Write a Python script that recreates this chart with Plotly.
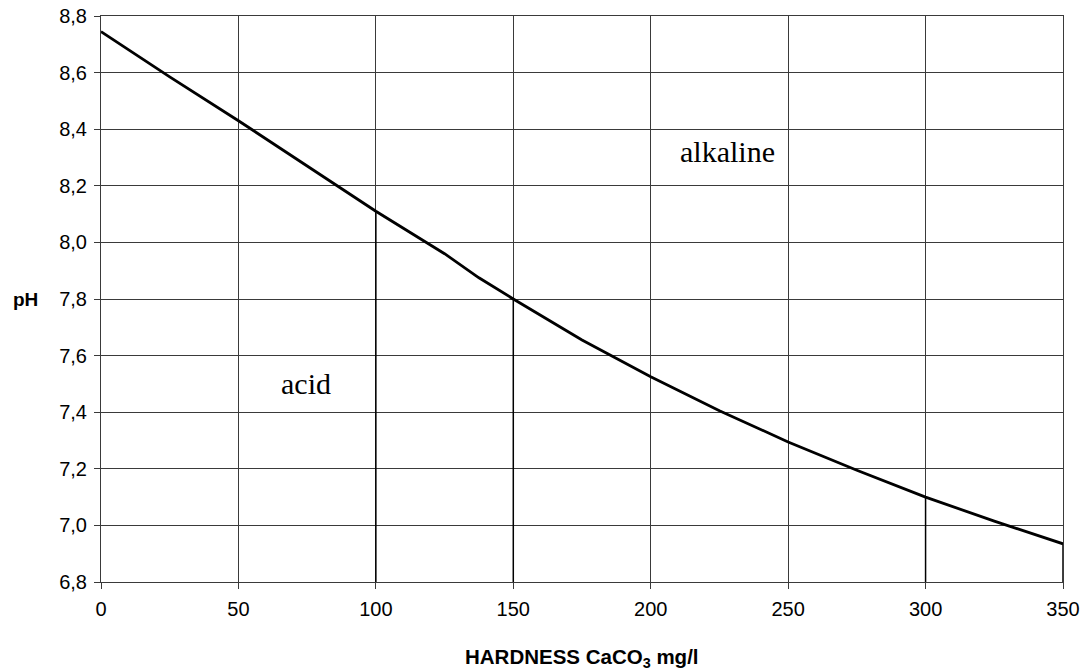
import plotly.graph_objects as go

hardness = [0, 25, 50, 75, 100, 125, 137.5, 150, 175, 200, 225, 250, 275, 300, 325, 350]
ph = [8.745, 8.585, 8.43, 8.27, 8.11, 7.96, 7.875, 7.80, 7.655, 7.525, 7.405, 7.295, 7.195, 7.10, 7.015, 6.935]
drop_x = [100, 150, 300, 350]
x_ticks = [0, 50, 100, 150, 200, 250, 300, 350]
y_ticks = [6.8, 7.0, 7.2, 7.4, 7.6, 7.8, 8.0, 8.2, 8.4, 8.6, 8.8]
region_labels = ["alkaline", "acid"]
region_x = [228, 74.5]
region_y = [8.32, 7.50]

fig = go.Figure()

# drop lines from data points to axis
for dx in drop_x:
    dy = ph[hardness.index(dx)]
    fig.add_trace(go.Scatter(x=[dx, dx], y=[6.8, dy], mode="lines",
                             line=dict(color="black", width=1.5),
                             showlegend=False, hoverinfo="skip"))

fig.add_trace(go.Scatter(x=hardness, y=ph, mode="lines",
                         line=dict(color="black", width=2.8),
                         showlegend=False))

for t, xx, yy in zip(region_labels, region_x, region_y):
    fig.add_annotation(x=xx, y=yy, text=t, showarrow=False,
                       font=dict(family="Liberation Serif", size=30, color="black"))

fig.add_annotation(xref="paper", yref="paper", x=-0.079, y=0.5, text="<b>pH</b>",
                   showarrow=False, xanchor="center", yanchor="middle",
                   font=dict(family="Liberation Sans", size=19, color="black"))
fig.add_annotation(xref="paper", yref="paper", x=0.5, y=-0.134,
                   text="<b>HARDNESS CaCO<sub>3</sub> mg/l</b>",
                   showarrow=False, xanchor="center", yanchor="middle",
                   font=dict(family="Liberation Sans", size=20.5, color="black"))

fig.update_layout(
    width=1091, height=672,
    margin=dict(l=93, r=36, t=8, b=98),
    plot_bgcolor="white", paper_bgcolor="white",
    separators=",.",
    font=dict(family="Liberation Sans", size=20, color="black"),
)
fig.update_xaxes(
    range=[0, 350], tickvals=x_ticks, showgrid=True, gridcolor="#3a3a3a", gridwidth=1,
    showline=True, linecolor="#3a3a3a", linewidth=1, mirror=True,
    ticks="outside", ticklen=6, tickcolor="#3a3a3a", zeroline=False,
    automargin=False, ticklabelstandoff=3, ticklabeloverflow="allow",
)
fig.update_yaxes(
    range=[6.8, 8.8], tickvals=y_ticks, tickformat=".1f", showgrid=True,
    gridcolor="#3a3a3a", gridwidth=1,
    showline=True, linecolor="#3a3a3a", linewidth=1, mirror=True,
    ticks="outside", ticklen=6, tickcolor="#3a3a3a", zeroline=False,
    automargin=False, ticklabelstandoff=3, ticklabeloverflow="allow",
)

fig.write_html("out.html")
